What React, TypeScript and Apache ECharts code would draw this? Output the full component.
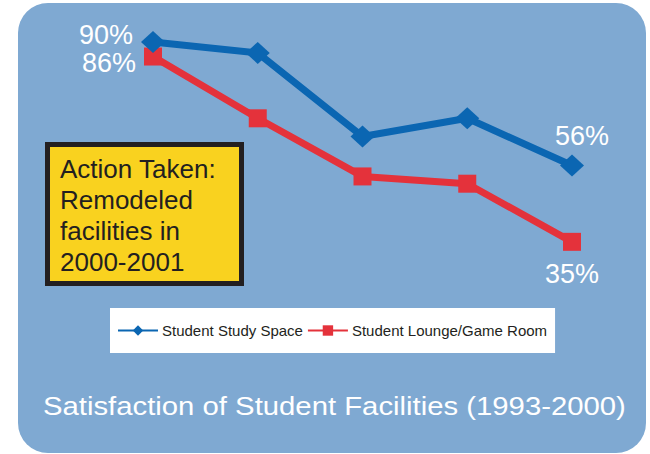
import React, { useEffect, useRef } from "react";
import * as echarts from "echarts";

const years = ["1993", "1995", "1997", "1998", "2000"];
const studySpace = [90, 87, 64, 69, 56];
const lounge = [86, 69, 53, 51, 35];
const seriesNames = ["Student Study Space", "Student Lounge/Game Room"];
const titleText = "Satisfaction of Student Facilities (1993-2000)";
const noteLines = ["Action Taken:", "Remodeled", "facilities in", "2000-2001"];

const FONT = 'Arial, "Liberation Sans", Helvetica, sans-serif';

export default function App() {
  const ref = useRef<HTMLDivElement>(null);
  useEffect(() => {
    if (!ref.current) return;
    const chart = echarts.init(ref.current, null, { renderer: "svg" });
    const lbl = (extra: any) => ({
      show: true,
      formatter: "{c}%",
      color: "#ffffff",
      fontSize: 27,
      fontFamily: FONT,
      ...extra,
    });
    const blueData = studySpace.map((v, i) => {
      if (i === 0) return { value: v, label: lbl({ position: "left", distance: 8, offset: [0, -7] }) };
      if (i === studySpace.length - 1) return { value: v, label: lbl({ position: "top", distance: 5, offset: [10, 0] }) };
      return v;
    });
    const redData = lounge.map((v, i) => {
      if (i === 0) return { value: v, label: lbl({ position: "left", distance: 8, offset: [0, 6] }) };
      if (i === lounge.length - 1) return { value: v, label: lbl({ position: "bottom", distance: 10, offset: [0, 0] }) };
      return v;
    });
    chart.setOption({
      animation: false,
      graphic: [
        {
          type: "rect",
          z: -10,
          shape: { x: 18, y: 3, width: 628, height: 450, r: 30 },
          style: { fill: "#7fa9d2" },
        },
        {
          type: "rect",
          z: 1,
          shape: { x: 47.5, y: 144.5, width: 194, height: 139 },
          style: { fill: "#f9d21f", stroke: "#231f20", lineWidth: 5 },
        },
        {
          type: "text",
          z: 2,
          x: 60,
          y: 153,
          style: {
            text: noteLines.join("\n"),
            fill: "#231f20",
            font: `26px ${FONT}`,
            lineHeight: 31,
          },
        },
        {
          type: "text",
          z: 2,
          x: 43,
          y: 406,
          scaleX: 1.127,
          style: {
            text: titleText,
            fill: "#ffffff",
            font: `26px ${FONT}`,
            textVerticalAlign: "middle",
            textAlign: "left",
          },
        },
      ],
      legend: {
        left: 110,
        top: 308,
        backgroundColor: "#ffffff",
        padding: [15, 8, 15, 7],
        itemWidth: 40,
        itemHeight: 13,
        itemGap: 4,
        textStyle: { color: "#231f20", fontSize: 15, fontFamily: FONT, padding: [0, 0, 0, -1] },
        data: seriesNames,
      },
      grid: { left: 153, right: 78, top: 42, bottom: 194 },
      xAxis: { type: "category", data: years, boundaryGap: false, show: false },
      yAxis: { type: "value", min: 30, max: 90, show: false },
      series: [
        {
          name: seriesNames[0],
          type: "line",
          data: blueData,
          symbol: "diamond",
          symbolSize: [24, 22],
          lineStyle: { color: "#0b66b2", width: 7 },
          itemStyle: { color: "#0b66b2" },
          z: 3,
        },
        {
          name: seriesNames[1],
          type: "line",
          data: redData,
          symbol: "rect",
          symbolSize: 18,
          lineStyle: { color: "#e4323b", width: 7 },
          itemStyle: { color: "#e4323b" },
          z: 2,
        },
      ],
    });
    return () => chart.dispose();
  }, []);
  return (
    <div
      ref={ref}
      style={{ position: "fixed", left: 0, top: 0, width: 650, height: 454, background: "#ffffff" }}
    />
  );
}
